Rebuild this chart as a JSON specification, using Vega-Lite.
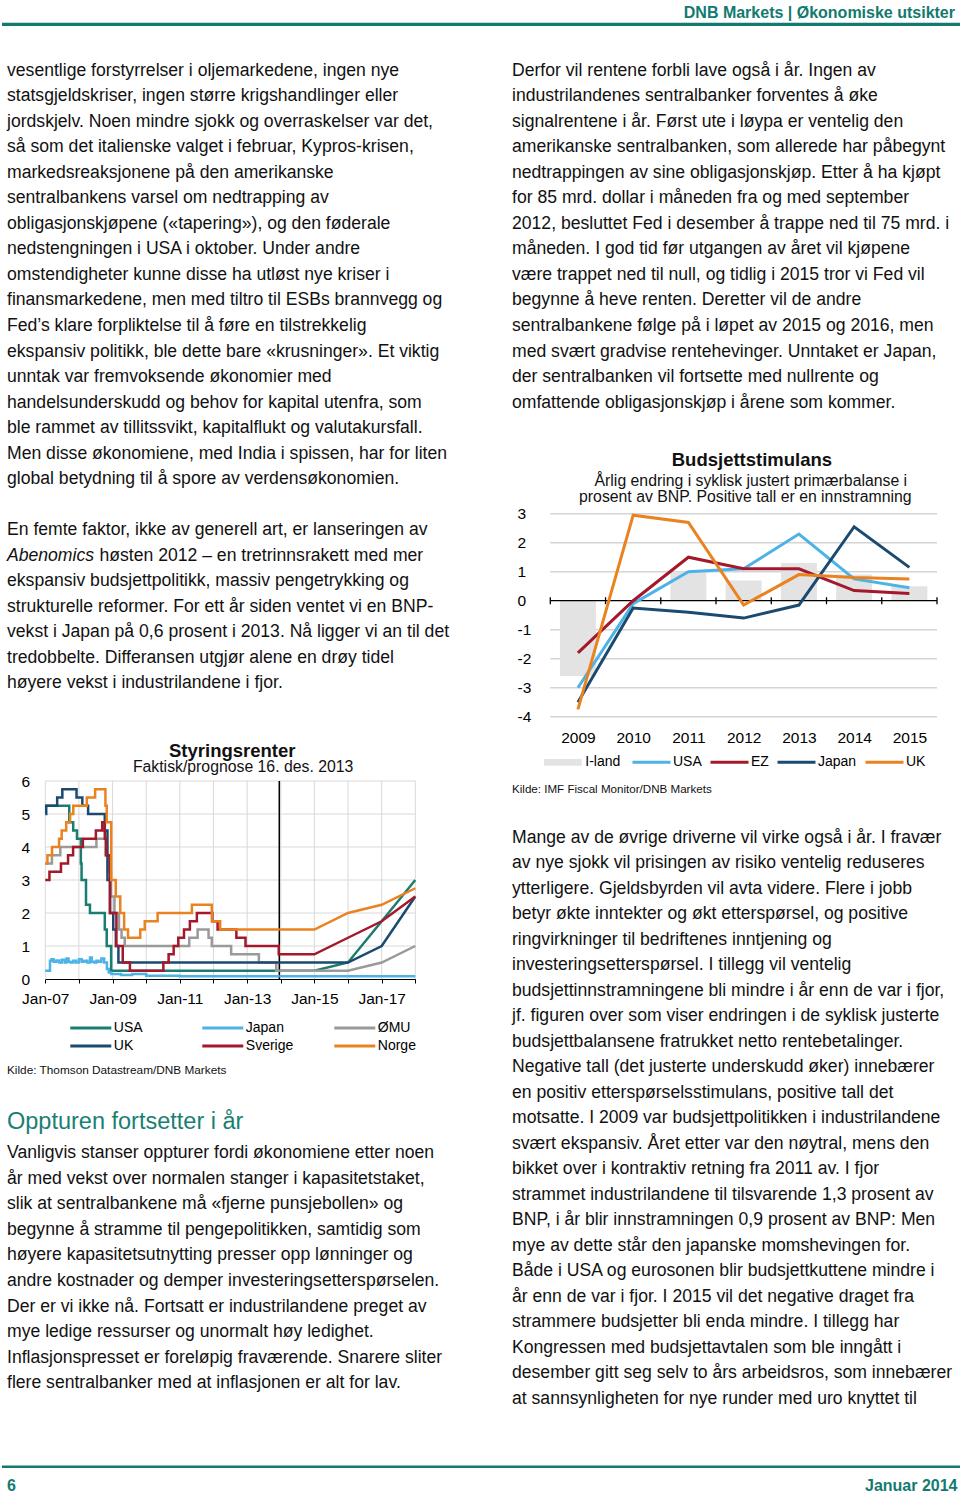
{
"$schema": "https://vega.github.io/schema/vega-lite/v6.json",
"padding": 0,
"spacing": 0,
"bounds": "flush",
"background": "#ffffff",
"config": {"font": "Liberation Sans", "view": {"stroke": null}, "text": {"color": "#111111"}, "axis": {"labelColor": "#000000", "labelFont": "Liberation Sans"}, "legend": {"labelColor": "#000000", "labelFont": "Liberation Sans"}},
"datasets": {
"leftA": [
{"line":0,"part":"m","text":"vesentlige forstyrrelser i oljemarkedene, ingen nye"},
{"line":1,"part":"m","text":"statsgjeldskriser, ingen større krigshandlinger eller"},
{"line":2,"part":"m","text":"jordskjelv. Noen mindre sjokk og overraskelser var det,"},
{"line":3,"part":"m","text":"så som det italienske valget i februar, Kypros-krisen,"},
{"line":4,"part":"m","text":"markedsreaksjonene på den amerikanske"},
{"line":5,"part":"m","text":"sentralbankens varsel om nedtrapping av"},
{"line":6,"part":"m","text":"obligasjonskjøpene («tapering»), og den føderale"},
{"line":7,"part":"m","text":"nedstengningen i USA i oktober. Under andre"},
{"line":8,"part":"m","text":"omstendigheter kunne disse ha utløst nye kriser i"},
{"line":9,"part":"m","text":"finansmarkedene, men med tiltro til ESBs brannvegg og"},
{"line":10,"part":"m","text":"Fed’s klare forpliktelse til å føre en tilstrekkelig"},
{"line":11,"part":"m","text":"ekspansiv politikk, ble dette bare «krusninger». Et viktig"},
{"line":12,"part":"m","text":"unntak var fremvoksende økonomier med"},
{"line":13,"part":"m","text":"handelsunderskudd og behov for kapital utenfra, som"},
{"line":14,"part":"m","text":"ble rammet av tillitssvikt, kapitalflukt og valutakursfall."},
{"line":15,"part":"m","text":"Men disse økonomiene, med India i spissen, har for liten"},
{"line":16,"part":"m","text":"global betydning til å spore av verdensøkonomien."},
{"line":18,"part":"m","text":"En femte faktor, ikke av generell art, er lanseringen av"},
{"line":19,"part":"i","text":"Abenomics"},
{"line":19,"part":"r","text":"høsten 2012 – en tretrinnsrakett med mer"},
{"line":20,"part":"m","text":"ekspansiv budsjettpolitikk, massiv pengetrykking og"},
{"line":21,"part":"m","text":"strukturelle reformer. For ett år siden ventet vi en BNP-"},
{"line":22,"part":"m","text":"vekst i Japan på 0,6 prosent i 2013. Nå ligger vi an til det"},
{"line":23,"part":"m","text":"tredobbelte. Differansen utgjør alene en drøy tidel"},
{"line":24,"part":"m","text":"høyere vekst i industrilandene i fjor."}
],
"leftB": [
{"line":0,"text":"Vanligvis stanser oppturer fordi økonomiene etter noen"},
{"line":1,"text":"år med vekst over normalen stanger i kapasitetstaket,"},
{"line":2,"text":"slik at sentralbankene må «fjerne punsjebollen» og"},
{"line":3,"text":"begynne å stramme til pengepolitikken, samtidig som"},
{"line":4,"text":"høyere kapasitetsutnytting presser opp lønninger og"},
{"line":5,"text":"andre kostnader og demper investeringsetterspørselen."},
{"line":6,"text":"Der er vi ikke nå. Fortsatt er industrilandene preget av"},
{"line":7,"text":"mye ledige ressurser og unormalt høy ledighet."},
{"line":8,"text":"Inflasjonspresset er foreløpig fraværende. Snarere sliter"},
{"line":9,"text":"flere sentralbanker med at inflasjonen er alt for lav."}
],
"rightA": [
{"line":0,"text":"Derfor vil rentene forbli lave også i år. Ingen av"},
{"line":1,"text":"industrilandenes sentralbanker forventes å øke"},
{"line":2,"text":"signalrentene i år. Først ute i løypa er ventelig den"},
{"line":3,"text":"amerikanske sentralbanken, som allerede har påbegynt"},
{"line":4,"text":"nedtrappingen av sine obligasjonskjøp. Etter å ha kjøpt"},
{"line":5,"text":"for 85 mrd. dollar i måneden fra og med september"},
{"line":6,"text":"2012, besluttet Fed i desember å trappe ned til 75 mrd. i"},
{"line":7,"text":"måneden. I god tid før utgangen av året vil kjøpene"},
{"line":8,"text":"være trappet ned til null, og tidlig i 2015 tror vi Fed vil"},
{"line":9,"text":"begynne å heve renten. Deretter vil de andre"},
{"line":10,"text":"sentralbankene følge på i løpet av 2015 og 2016, men"},
{"line":11,"text":"med svært gradvise rentehevinger. Unntaket er Japan,"},
{"line":12,"text":"der sentralbanken vil fortsette med nullrente og"},
{"line":13,"text":"omfattende obligasjonskjøp i årene som kommer."}
],
"rightB": [
{"line":0,"text":"Mange av de øvrige driverne vil virke også i år. I fravær"},
{"line":1,"text":"av nye sjokk vil prisingen av risiko ventelig reduseres"},
{"line":2,"text":"ytterligere. Gjeldsbyrden vil avta videre. Flere i jobb"},
{"line":3,"text":"betyr økte inntekter og økt etterspørsel, og positive"},
{"line":4,"text":"ringvirkninger til bedriftenes inntjening og"},
{"line":5,"text":"investeringsetterspørsel. I tillegg vil ventelig"},
{"line":6,"text":"budsjettinnstramningene bli mindre i år enn de var i fjor,"},
{"line":7,"text":"jf. figuren over som viser endringen i de syklisk justerte"},
{"line":8,"text":"budsjettbalansene fratrukket netto rentebetalinger."},
{"line":9,"text":"Negative tall (det justerte underskudd øker) innebærer"},
{"line":10,"text":"en positiv etterspørselsstimulans, positive tall det"},
{"line":11,"text":"motsatte. I 2009 var budsjettpolitikken i industrilandene"},
{"line":12,"text":"svært ekspansiv. Året etter var den nøytral, mens den"},
{"line":13,"text":"bikket over i kontraktiv retning fra 2011 av. I fjor"},
{"line":14,"text":"strammet industrilandene til tilsvarende 1,3 prosent av"},
{"line":15,"text":"BNP, i år blir innstramningen 0,9 prosent av BNP: Men"},
{"line":16,"text":"mye av dette står den japanske momshevingen for."},
{"line":17,"text":"Både i USA og eurosonen blir budsjettkuttene mindre i"},
{"line":18,"text":"år enn de var i fjor. I 2015 vil det negative draget fra"},
{"line":19,"text":"strammere budsjetter bli enda mindre. I tillegg har"},
{"line":20,"text":"Kongressen med budsjettavtalen som ble inngått i"},
{"line":21,"text":"desember gitt seg selv to års arbeidsros, som innebærer"},
{"line":22,"text":"at sannsynligheten for nye runder med uro knyttet til"}
],
"rates": [
{"s":"USA","p":"h","d":"2007-01-01","r":5.25},
{"s":"USA","p":"h","d":"2007-09-18","r":4.75},
{"s":"USA","p":"h","d":"2007-10-31","r":4.5},
{"s":"USA","p":"h","d":"2007-12-11","r":4.25},
{"s":"USA","p":"h","d":"2008-01-22","r":3.5},
{"s":"USA","p":"h","d":"2008-01-30","r":3.0},
{"s":"USA","p":"h","d":"2008-03-18","r":2.25},
{"s":"USA","p":"h","d":"2008-04-30","r":2.0},
{"s":"USA","p":"h","d":"2008-10-08","r":1.5},
{"s":"USA","p":"h","d":"2008-10-29","r":1.0},
{"s":"USA","p":"h","d":"2008-12-16","r":0.25},
{"s":"USA","p":"h","d":"2013-12-16","r":0.25},
{"s":"USA","p":"f","d":"2013-12-16","r":0.25},
{"s":"USA","p":"f","d":"2015-01-01","r":0.25},
{"s":"USA","p":"f","d":"2016-01-01","r":0.5},
{"s":"USA","p":"f","d":"2017-01-01","r":1.75},
{"s":"USA","p":"f","d":"2018-01-01","r":3.0},
{"s":"Japan","p":"h","d":"2007-01-01","r":0.25},
{"s":"Japan","p":"h","d":"2007-02-21","r":0.55},
{"s":"Japan","p":"h","d":"2007-03-10","r":0.6},
{"s":"Japan","p":"h","d":"2007-04-01","r":0.52},
{"s":"Japan","p":"h","d":"2007-05-01","r":0.56},
{"s":"Japan","p":"h","d":"2007-06-01","r":0.5},
{"s":"Japan","p":"h","d":"2007-07-01","r":0.58},
{"s":"Japan","p":"h","d":"2007-08-01","r":0.5},
{"s":"Japan","p":"h","d":"2007-08-20","r":0.62},
{"s":"Japan","p":"h","d":"2007-09-10","r":0.52},
{"s":"Japan","p":"h","d":"2007-10-01","r":0.5},
{"s":"Japan","p":"h","d":"2007-11-01","r":0.55},
{"s":"Japan","p":"h","d":"2007-12-01","r":0.5},
{"s":"Japan","p":"h","d":"2008-01-01","r":0.6},
{"s":"Japan","p":"h","d":"2008-02-01","r":0.52},
{"s":"Japan","p":"h","d":"2008-03-01","r":0.55},
{"s":"Japan","p":"h","d":"2008-04-01","r":0.5},
{"s":"Japan","p":"h","d":"2008-05-01","r":0.65},
{"s":"Japan","p":"h","d":"2008-05-20","r":0.52},
{"s":"Japan","p":"h","d":"2008-06-15","r":0.5},
{"s":"Japan","p":"h","d":"2008-07-10","r":0.55},
{"s":"Japan","p":"h","d":"2008-08-01","r":0.52},
{"s":"Japan","p":"h","d":"2008-09-01","r":0.62},
{"s":"Japan","p":"h","d":"2008-10-01","r":0.5},
{"s":"Japan","p":"h","d":"2008-10-31","r":0.3},
{"s":"Japan","p":"h","d":"2008-11-20","r":0.2},
{"s":"Japan","p":"h","d":"2008-12-19","r":0.15},
{"s":"Japan","p":"h","d":"2009-04-01","r":0.12},
{"s":"Japan","p":"h","d":"2009-08-01","r":0.15},
{"s":"Japan","p":"h","d":"2010-01-01","r":0.1},
{"s":"Japan","p":"h","d":"2011-01-01","r":0.08},
{"s":"Japan","p":"h","d":"2013-12-16","r":0.08},
{"s":"Japan","p":"f","d":"2013-12-16","r":0.08},
{"s":"Japan","p":"f","d":"2018-01-01","r":0.08},
{"s":"ØMU","p":"h","d":"2007-01-01","r":3.5},
{"s":"ØMU","p":"h","d":"2007-03-14","r":3.75},
{"s":"ØMU","p":"h","d":"2007-06-13","r":4.0},
{"s":"ØMU","p":"h","d":"2008-07-09","r":4.25},
{"s":"ØMU","p":"h","d":"2008-10-15","r":3.75},
{"s":"ØMU","p":"h","d":"2008-11-12","r":3.25},
{"s":"ØMU","p":"h","d":"2008-12-10","r":2.5},
{"s":"ØMU","p":"h","d":"2009-01-21","r":2.0},
{"s":"ØMU","p":"h","d":"2009-03-11","r":1.5},
{"s":"ØMU","p":"h","d":"2009-04-08","r":1.25},
{"s":"ØMU","p":"h","d":"2009-05-13","r":1.0},
{"s":"ØMU","p":"h","d":"2011-04-13","r":1.25},
{"s":"ØMU","p":"h","d":"2011-07-13","r":1.5},
{"s":"ØMU","p":"h","d":"2011-11-09","r":1.25},
{"s":"ØMU","p":"h","d":"2011-12-14","r":1.0},
{"s":"ØMU","p":"h","d":"2012-07-11","r":0.75},
{"s":"ØMU","p":"h","d":"2013-05-08","r":0.5},
{"s":"ØMU","p":"h","d":"2013-11-13","r":0.25},
{"s":"ØMU","p":"h","d":"2013-12-16","r":0.25},
{"s":"ØMU","p":"f","d":"2013-12-16","r":0.25},
{"s":"ØMU","p":"f","d":"2016-01-01","r":0.25},
{"s":"ØMU","p":"f","d":"2017-01-01","r":0.5},
{"s":"ØMU","p":"f","d":"2018-01-01","r":1.0},
{"s":"UK","p":"h","d":"2007-01-01","r":5.0},
{"s":"UK","p":"h","d":"2007-01-11","r":5.25},
{"s":"UK","p":"h","d":"2007-05-10","r":5.5},
{"s":"UK","p":"h","d":"2007-07-05","r":5.75},
{"s":"UK","p":"h","d":"2007-12-06","r":5.5},
{"s":"UK","p":"h","d":"2008-02-07","r":5.25},
{"s":"UK","p":"h","d":"2008-04-10","r":5.0},
{"s":"UK","p":"h","d":"2008-10-08","r":4.5},
{"s":"UK","p":"h","d":"2008-11-06","r":3.0},
{"s":"UK","p":"h","d":"2008-12-04","r":2.0},
{"s":"UK","p":"h","d":"2009-01-08","r":1.5},
{"s":"UK","p":"h","d":"2009-02-05","r":1.0},
{"s":"UK","p":"h","d":"2009-03-05","r":0.5},
{"s":"UK","p":"h","d":"2013-12-16","r":0.5},
{"s":"UK","p":"f","d":"2013-12-16","r":0.5},
{"s":"UK","p":"f","d":"2016-01-01","r":0.5},
{"s":"UK","p":"f","d":"2017-01-01","r":1.0},
{"s":"UK","p":"f","d":"2018-01-01","r":2.5},
{"s":"Sverige","p":"h","d":"2007-01-01","r":3.0},
{"s":"Sverige","p":"h","d":"2007-02-15","r":3.25},
{"s":"Sverige","p":"h","d":"2007-06-20","r":3.5},
{"s":"Sverige","p":"h","d":"2007-09-05","r":3.75},
{"s":"Sverige","p":"h","d":"2007-10-30","r":4.0},
{"s":"Sverige","p":"h","d":"2008-02-13","r":4.25},
{"s":"Sverige","p":"h","d":"2008-07-03","r":4.5},
{"s":"Sverige","p":"h","d":"2008-09-10","r":4.75},
{"s":"Sverige","p":"h","d":"2008-10-08","r":4.25},
{"s":"Sverige","p":"h","d":"2008-10-23","r":3.75},
{"s":"Sverige","p":"h","d":"2008-12-03","r":2.0},
{"s":"Sverige","p":"h","d":"2009-02-11","r":1.0},
{"s":"Sverige","p":"h","d":"2009-04-21","r":0.5},
{"s":"Sverige","p":"h","d":"2009-07-08","r":0.25},
{"s":"Sverige","p":"h","d":"2010-07-06","r":0.5},
{"s":"Sverige","p":"h","d":"2010-09-01","r":0.75},
{"s":"Sverige","p":"h","d":"2010-10-26","r":1.0},
{"s":"Sverige","p":"h","d":"2010-12-15","r":1.25},
{"s":"Sverige","p":"h","d":"2011-02-15","r":1.5},
{"s":"Sverige","p":"h","d":"2011-04-20","r":1.75},
{"s":"Sverige","p":"h","d":"2011-07-05","r":2.0},
{"s":"Sverige","p":"h","d":"2011-12-20","r":1.75},
{"s":"Sverige","p":"h","d":"2012-02-15","r":1.5},
{"s":"Sverige","p":"h","d":"2012-09-06","r":1.25},
{"s":"Sverige","p":"h","d":"2012-12-14","r":1.0},
{"s":"Sverige","p":"h","d":"2013-12-10","r":0.75},
{"s":"Sverige","p":"h","d":"2013-12-16","r":0.75},
{"s":"Sverige","p":"f","d":"2013-12-16","r":0.75},
{"s":"Sverige","p":"f","d":"2015-01-01","r":0.75},
{"s":"Sverige","p":"f","d":"2016-01-01","r":1.25},
{"s":"Sverige","p":"f","d":"2017-01-01","r":1.75},
{"s":"Sverige","p":"f","d":"2018-01-01","r":2.5},
{"s":"Norge","p":"h","d":"2007-01-01","r":3.5},
{"s":"Norge","p":"h","d":"2007-01-24","r":3.75},
{"s":"Norge","p":"h","d":"2007-03-15","r":4.0},
{"s":"Norge","p":"h","d":"2007-05-31","r":4.25},
{"s":"Norge","p":"h","d":"2007-06-28","r":4.5},
{"s":"Norge","p":"h","d":"2007-08-16","r":4.75},
{"s":"Norge","p":"h","d":"2007-09-27","r":5.0},
{"s":"Norge","p":"h","d":"2007-11-01","r":5.25},
{"s":"Norge","p":"h","d":"2008-03-27","r":5.5},
{"s":"Norge","p":"h","d":"2008-06-25","r":5.75},
{"s":"Norge","p":"h","d":"2008-10-15","r":5.25},
{"s":"Norge","p":"h","d":"2008-10-29","r":4.75},
{"s":"Norge","p":"h","d":"2008-12-17","r":3.0},
{"s":"Norge","p":"h","d":"2009-02-04","r":2.5},
{"s":"Norge","p":"h","d":"2009-03-25","r":2.0},
{"s":"Norge","p":"h","d":"2009-05-06","r":1.5},
{"s":"Norge","p":"h","d":"2009-06-17","r":1.25},
{"s":"Norge","p":"h","d":"2009-10-28","r":1.5},
{"s":"Norge","p":"h","d":"2009-12-16","r":1.75},
{"s":"Norge","p":"h","d":"2010-05-05","r":2.0},
{"s":"Norge","p":"h","d":"2011-05-12","r":2.25},
{"s":"Norge","p":"h","d":"2011-12-14","r":1.75},
{"s":"Norge","p":"h","d":"2012-03-14","r":1.5},
{"s":"Norge","p":"h","d":"2013-12-16","r":1.5},
{"s":"Norge","p":"f","d":"2013-12-16","r":1.5},
{"s":"Norge","p":"f","d":"2015-01-01","r":1.5},
{"s":"Norge","p":"f","d":"2016-01-01","r":2.0},
{"s":"Norge","p":"f","d":"2017-01-01","r":2.25},
{"s":"Norge","p":"f","d":"2018-01-01","r":2.75}
],
"fiscal": [
{"s":"I-land","year":2009,"v":-2.6},{"s":"I-land","year":2010,"v":0.0},{"s":"I-land","year":2011,"v":1.0},{"s":"I-land","year":2012,"v":0.7},{"s":"I-land","year":2013,"v":1.3},{"s":"I-land","year":2014,"v":0.9},{"s":"I-land","year":2015,"v":0.5},
{"s":"USA","year":2009,"v":-3.0},{"s":"USA","year":2010,"v":-0.1},{"s":"USA","year":2011,"v":1.0},{"s":"USA","year":2012,"v":1.1},{"s":"USA","year":2013,"v":2.3},{"s":"USA","year":2014,"v":0.75},{"s":"USA","year":2015,"v":0.45},
{"s":"EZ","year":2009,"v":-1.8},{"s":"EZ","year":2010,"v":0.0},{"s":"EZ","year":2011,"v":1.5},{"s":"EZ","year":2012,"v":1.1},{"s":"EZ","year":2013,"v":1.1},{"s":"EZ","year":2014,"v":0.35},{"s":"EZ","year":2015,"v":0.25},
{"s":"Japan","year":2009,"v":-3.5},{"s":"Japan","year":2010,"v":-0.25},{"s":"Japan","year":2011,"v":-0.4},{"s":"Japan","year":2012,"v":-0.6},{"s":"Japan","year":2013,"v":-0.15},{"s":"Japan","year":2014,"v":2.55},{"s":"Japan","year":2015,"v":1.15},
{"s":"UK","year":2009,"v":-3.75},{"s":"UK","year":2010,"v":2.95},{"s":"UK","year":2011,"v":2.7},{"s":"UK","year":2012,"v":-0.15},{"s":"UK","year":2013,"v":0.9},{"s":"UK","year":2014,"v":0.8},{"s":"UK","year":2015,"v":0.75}
]
},
"resolve": {"scale": {"x": "independent", "y": "independent", "color": "independent"}, "legend": {"color": "independent"}},
"hconcat": [
{
"width": 510, "height": 1495,
"resolve": {"scale": {"x": "independent", "y": "independent", "color": "independent"}, "axis": {"x": "independent", "y": "independent"}},
"layer": [
{"data": {"values": [{}]}, "mark": {"type": "rule", "color": "#127a6f", "strokeWidth": 3.2}, "encoding": {"x": {"value": 0}, "x2": {"value": 510}, "y": {"value": 24.4}, "y2": {"value": 24.4}}},
{"data": {"values": [{}]}, "mark": {"type": "rule", "color": "#127a6f", "strokeWidth": 2.5}, "encoding": {"x": {"value": 0}, "x2": {"value": 510}, "y": {"value": 1466.7}, "y2": {"value": 1466.7}}},
{"data": {"values": [{"t": "6"}]}, "mark": {"type": "text", "align": "left", "baseline": "alphabetic", "fontSize": 16, "fontWeight": "bold", "color": "#127a6f"}, "encoding": {"x": {"value": 5}, "y": {"value": 1491}, "text": {"field": "t"}}},
{"data": {"name": "leftA"}, "transform": [{"filter": "datum.part == 'm'"}], "mark": {"type": "text", "align": "left", "baseline": "alphabetic", "fontSize": 17.6},
 "encoding": {"x": {"value": 5}, "y": {"field": "line", "type": "quantitative", "scale": {"domain": [0, 24], "range": [75.7, 688.4], "nice": false, "zero": false}, "axis": null}, "text": {"field": "text"}}},
{"data": {"name": "leftA"}, "transform": [{"filter": "datum.part == 'i'"}], "mark": {"type": "text", "align": "left", "baseline": "alphabetic", "fontSize": 17.6, "fontStyle": "italic"},
 "encoding": {"x": {"value": 5}, "y": {"field": "line", "type": "quantitative", "scale": {"domain": [0, 24], "range": [75.7, 688.4], "nice": false, "zero": false}, "axis": null}, "text": {"field": "text"}}},
{"data": {"name": "leftA"}, "transform": [{"filter": "datum.part == 'r'"}], "mark": {"type": "text", "align": "left", "baseline": "alphabetic", "fontSize": 17.6},
 "encoding": {"x": {"value": 97.5}, "y": {"field": "line", "type": "quantitative", "scale": {"domain": [0, 24], "range": [75.7, 688.4], "nice": false, "zero": false}, "axis": null}, "text": {"field": "text"}}},
{"data": {"values": [{"t": "Oppturen fortsetter i år"}]}, "mark": {"type": "text", "align": "left", "baseline": "alphabetic", "fontSize": 23.5, "color": "#1a7f73"}, "encoding": {"x": {"value": 5}, "y": {"value": 1128.5}, "text": {"field": "t"}}},
{"data": {"name": "leftB"}, "mark": {"type": "text", "align": "left", "baseline": "alphabetic", "fontSize": 17.6},
 "encoding": {"x": {"value": 5}, "y": {"field": "line", "type": "quantitative", "scale": {"domain": [0, 9], "range": [1158, 1388.3], "nice": false, "zero": false}, "axis": null}, "text": {"field": "text"}}},
{"layer": [
 {"data": {"values": [{"v":1},{"v":2},{"v":3},{"v":4},{"v":5},{"v":6}]}, "mark": {"type": "rule", "color": "#d9d9d9", "strokeWidth": 1},
  "encoding": {"y": {"field": "v", "type": "quantitative", "scale": {"domain": [0, 6], "range": [979, 781], "nice": false, "zero": false}},
   "x": {"datum": {"year": 2007, "month": 1, "date": 1, "utc": true}, "type": "temporal", "scale": {"type": "utc", "domain": [{"year": 2007, "month": 1, "date": 1, "utc": true}, {"year": 2018, "month": 1, "date": 1, "utc": true}], "range": [43.3, 413.3]}},
   "x2": {"datum": {"year": 2018, "month": 1, "date": 1, "utc": true}}}},
 {"data": {"values": [{"d":"2007-01-01"},{"d":"2008-01-01"},{"d":"2009-01-01"},{"d":"2010-01-01"},{"d":"2011-01-01"},{"d":"2012-01-01"},{"d":"2013-01-01"},{"d":"2014-01-01"},{"d":"2015-01-01"},{"d":"2016-01-01"},{"d":"2017-01-01"},{"d":"2018-01-01"}]}, "mark": {"type": "rule", "color": "#d9d9d9", "strokeWidth": 1},
  "encoding": {"x": {"field": "d", "type": "temporal"}, "y": {"datum": 0, "type": "quantitative"}, "y2": {"datum": 6}}},
 {"data": {"values": [{"d":"2013-12-16"}]}, "mark": {"type": "rule", "color": "#000000", "strokeWidth": 1.5},
  "encoding": {"x": {"field": "d", "type": "temporal"}, "y": {"datum": 0, "type": "quantitative"}, "y2": {"datum": 6}}},
 {"data": {"name": "rates"}, "transform": [{"filter": "datum.p == 'h'"}], "mark": {"type": "line", "interpolate": "step-after", "strokeWidth": 2.5},
  "encoding": {
   "x": {"field": "d", "type": "temporal", "axis": {"orient": "bottom", "offset": -516, "values": [{"year":2007,"month":1,"date":1,"utc":true},{"year":2008,"month":1,"date":1,"utc":true},{"year":2009,"month":1,"date":1,"utc":true},{"year":2010,"month":1,"date":1,"utc":true},{"year":2011,"month":1,"date":1,"utc":true},{"year":2012,"month":1,"date":1,"utc":true},{"year":2013,"month":1,"date":1,"utc":true},{"year":2014,"month":1,"date":1,"utc":true},{"year":2015,"month":1,"date":1,"utc":true},{"year":2016,"month":1,"date":1,"utc":true},{"year":2017,"month":1,"date":1,"utc":true},{"year":2018,"month":1,"date":1,"utc":true}],
     "labelExpr": "utcyear(datum.value) % 2 == 1 ? utcFormat(datum.value, '%b-%y') : ''", "grid": false, "domain": true, "domainColor": "#000000", "domainWidth": 1, "ticks": true, "tickColor": "#000000", "tickSize": 4, "labelFontSize": 15.5, "labelPadding": 8, "labelFlush": false, "labelOverlap": false, "title": null}},
   "y": {"field": "r", "type": "quantitative", "axis": {"orient": "left", "offset": -43.3, "values": [0,1,2,3,4,5,6], "labelExpr": "'' + datum.value", "grid": false, "domain": false, "ticks": false, "labelAlign": "left", "labelBaseline": "middle", "labelPadding": 24.3, "labelFontSize": 15.5, "title": null}},
   "color": {"field": "s", "type": "nominal", "scale": {"domain": ["USA", "Japan", "ØMU", "UK", "Sverige", "Norge"], "range": ["#1a7d70", "#4db3e6", "#9a9a9a", "#1b4a70", "#a3182b", "#ea8220"]},
    "legend": {"orient": "none", "legendX": 66.8, "legendY": 1020, "direction": "horizontal", "columns": 3, "title": null, "symbolType": "stroke", "symbolSize": 1681, "symbolStrokeWidth": 3, "labelFontSize": 14, "columnPadding": 39, "rowPadding": 2, "labelOffset": 1, "clipHeight": 16, "padding": 0, "gridAlign": "all"}}
  }},
 {"data": {"name": "rates"}, "transform": [{"filter": "datum.p == 'f'"}], "mark": {"type": "line", "interpolate": "linear", "strokeWidth": 2.5},
  "encoding": {"x": {"field": "d", "type": "temporal"}, "y": {"field": "r", "type": "quantitative"}, "color": {"field": "s", "type": "nominal"}}},
 {"data": {"values": [{"t": "Styringsrenter"}]}, "mark": {"type": "text", "align": "center", "baseline": "alphabetic", "fontSize": 18.5, "fontWeight": "bold"},
  "encoding": {"x": {"datum": {"year": 2012, "month": 7, "date": 23, "utc": true}, "type": "temporal"}, "y": {"datum": 6.74, "type": "quantitative"}, "text": {"field": "t"}}},
 {"data": {"values": [{"t": "Faktisk/prognose 16. des. 2013"}]}, "mark": {"type": "text", "align": "center", "baseline": "alphabetic", "fontSize": 15.8},
  "encoding": {"x": {"datum": {"year": 2012, "month": 11, "date": 18, "utc": true}, "type": "temporal"}, "y": {"datum": 6.26, "type": "quantitative"}, "text": {"field": "t"}}},
 {"data": {"values": [{"t": "Kilde: Thomson Datastream/DNB Markets"}]}, "mark": {"type": "text", "align": "left", "baseline": "alphabetic", "fontSize": 11.8},
  "encoding": {"x": {"value": 5}, "y": {"datum": -2.88, "type": "quantitative"}, "text": {"field": "t"}}}
]}
]
},
{
"width": 450, "height": 1495,
"resolve": {"scale": {"x": "independent", "y": "independent", "color": "independent"}, "axis": {"x": "independent", "y": "independent"}},
"layer": [
{"data": {"values": [{}]}, "mark": {"type": "rule", "color": "#127a6f", "strokeWidth": 3.2}, "encoding": {"x": {"value": 0}, "x2": {"value": 450}, "y": {"value": 24.4}, "y2": {"value": 24.4}}},
{"data": {"values": [{}]}, "mark": {"type": "rule", "color": "#127a6f", "strokeWidth": 2.5}, "encoding": {"x": {"value": 0}, "x2": {"value": 450}, "y": {"value": 1466.7}, "y2": {"value": 1466.7}}},
{"data": {"values": [{"t": "DNB Markets | Økonomiske utsikter"}]}, "mark": {"type": "text", "align": "right", "baseline": "alphabetic", "fontSize": 16, "fontWeight": "bold", "color": "#127a6f"}, "encoding": {"x": {"value": 443}, "y": {"value": 17.7}, "text": {"field": "t"}}},
{"data": {"values": [{"t": "Januar 2014"}]}, "mark": {"type": "text", "align": "right", "baseline": "alphabetic", "fontSize": 16, "fontWeight": "bold", "color": "#127a6f"}, "encoding": {"x": {"value": 445.5}, "y": {"value": 1491}, "text": {"field": "t"}}},
{"data": {"name": "rightA"}, "mark": {"type": "text", "align": "left", "baseline": "alphabetic", "fontSize": 17.6},
 "encoding": {"x": {"value": 0}, "y": {"field": "line", "type": "quantitative", "scale": {"domain": [0, 13], "range": [75.7, 407.6], "nice": false, "zero": false}, "axis": null}, "text": {"field": "text"}}},
{"data": {"name": "rightB"}, "mark": {"type": "text", "align": "left", "baseline": "alphabetic", "fontSize": 17.6},
 "encoding": {"x": {"value": 0}, "y": {"field": "line", "type": "quantitative", "scale": {"domain": [0, 22], "range": [842.5, 1404], "nice": false, "zero": false}, "axis": null}, "text": {"field": "text"}}},
{"resolve": {"scale": {"color": "independent"}, "legend": {"color": "independent"}},
 "layer": [
 {"data": {"values": [{"v":-4},{"v":-3},{"v":-2},{"v":-1},{"v":1},{"v":2},{"v":3}]}, "mark": {"type": "rule", "color": "#d4d4d4", "strokeWidth": 1.5},
  "encoding": {"y": {"field": "v", "type": "quantitative", "scale": {"domain": [-4, 3], "range": [716.7, 513.7], "nice": false, "zero": false}},
   "x": {"datum": 2008.5, "type": "quantitative", "scale": {"domain": [2008.5, 2015.5], "range": [33.3, 430], "nice": false, "zero": false}},
   "x2": {"datum": 2015.5}}},
 {"data": {"name": "fiscal"}, "transform": [{"filter": "datum.s == 'I-land'"}], "mark": {"type": "bar", "size": 36},
  "encoding": {"x": {"field": "year", "type": "quantitative"}, "y": {"field": "v", "type": "quantitative"},
   "color": {"field": "s", "type": "nominal", "scale": {"domain": ["I-land"], "range": ["#e3e3e3"]},
    "legend": {"orient": "none", "legendX": 31.7, "legendY": 754.3, "title": null, "symbolType": "M-1,-0.18H1V0.18H-1Z", "symbolSize": 1444, "symbolStrokeWidth": 0, "labelFontSize": 14, "labelOffset": 3.6, "clipHeight": 16, "padding": 0}}}},
 {"data": {"values": [{}]}, "mark": {"type": "rule", "color": "#000000", "strokeWidth": 1.3},
  "encoding": {"y": {"datum": 0, "type": "quantitative"}, "x": {"datum": 2008.5, "type": "quantitative"}, "x2": {"datum": 2015.5}}},
 {"data": {"values": [{"b":2008.5},{"b":2009.5},{"b":2010.5},{"b":2011.5},{"b":2012.5},{"b":2013.5},{"b":2014.5},{"b":2015.5}]}, "mark": {"type": "rule", "color": "#000000", "strokeWidth": 1.3},
  "encoding": {"x": {"field": "b", "type": "quantitative"}, "y": {"datum": -0.12, "type": "quantitative"}, "y2": {"datum": 0.12}}},
 {"data": {"name": "fiscal"}, "transform": [{"filter": "datum.s != 'I-land'"}], "mark": {"type": "line", "strokeWidth": 3},
  "encoding": {
   "x": {"field": "year", "type": "quantitative", "axis": {"orient": "bottom", "offset": -778.3, "values": [2009, 2010, 2011, 2012, 2013, 2014, 2015], "format": "d", "grid": false, "domain": false, "ticks": false, "labelPadding": 14, "labelFontSize": 15.5, "labelFlush": false, "labelOverlap": false, "title": null}},
   "y": {"field": "v", "type": "quantitative", "axis": {"orient": "left", "offset": -33.3, "values": [-4, -3, -2, -1, 0, 1, 2, 3], "labelExpr": "'' + datum.value", "grid": false, "domain": false, "ticks": false, "labelAlign": "left", "labelBaseline": "middle", "labelPadding": 28.3, "labelFontSize": 15.5, "title": null}},
   "color": {"field": "s", "type": "nominal", "scale": {"domain": ["USA", "EZ", "Japan", "UK"], "range": ["#4db3e6", "#a3182b", "#1b4a70", "#ea8220"]},
    "legend": {"orient": "none", "legendX": 119, "legendY": 754.3, "direction": "horizontal", "columns": 4, "gridAlign": "each", "title": null, "symbolType": "stroke", "symbolSize": 1444, "symbolStrokeWidth": 3, "labelFontSize": 14, "columnPadding": 7, "labelOffset": 1, "clipHeight": 16, "padding": 0}}
  }},
 {"data": {"values": [{"t": "Budsjettstimulans"}]}, "mark": {"type": "text", "align": "center", "baseline": "alphabetic", "fontSize": 18.5, "fontWeight": "bold"},
  "encoding": {"x": {"datum": 2012.15, "type": "quantitative"}, "y": {"datum": 4.65, "type": "quantitative"}, "text": {"field": "t"}}},
 {"data": {"values": [{"t": "Årlig endring i syklisk justert primærbalanse i"}]}, "mark": {"type": "text", "align": "center", "baseline": "alphabetic", "fontSize": 15.8},
  "encoding": {"x": {"datum": 2012.13, "type": "quantitative"}, "y": {"datum": 3.97, "type": "quantitative"}, "text": {"field": "t"}}},
 {"data": {"values": [{"t": "prosent av BNP. Positive tall er en innstramning"}]}, "mark": {"type": "text", "align": "center", "baseline": "alphabetic", "fontSize": 15.8},
  "encoding": {"x": {"datum": 2012.03, "type": "quantitative"}, "y": {"datum": 3.4, "type": "quantitative"}, "text": {"field": "t"}}},
 {"data": {"values": [{"t": "Kilde: IMF Fiscal Monitor/DNB Markets"}]}, "mark": {"type": "text", "align": "left", "baseline": "alphabetic", "fontSize": 11.6},
  "encoding": {"x": {"value": 0}, "y": {"datum": -6.62, "type": "quantitative"}, "text": {"field": "t"}}}
]}
]
}
]
}
